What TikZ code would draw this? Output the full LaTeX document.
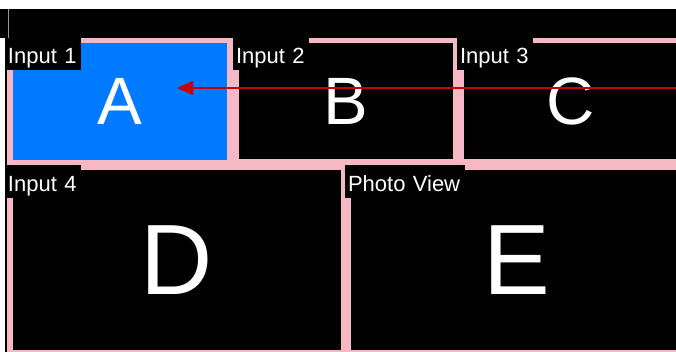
\documentclass[tikz,border=0pt]{standalone}
\usepackage{fontspec}
\setmainfont{Liberation Sans}
\usetikzlibrary{arrows.meta}
\definecolor{tilepink}{RGB}{246,184,196}
\definecolor{tileblue}{RGB}{0,122,255}
\definecolor{arrowred}{RGB}{200,0,0}
\definecolor{bargray}{RGB}{150,150,150}
\begin{document}
\begin{tikzpicture}[x=1pt,y=-1pt,
  tile/.style={draw=tilepink,line width=5.5pt,fill=black,text=white,
    inner sep=0pt,outer sep=0pt},
  small/.style={font=\fontsize{67}{67}\selectfont},
  big/.style={font=\fontsize{100}{100}\selectfont},
  tag/.style={fill=black,text=white,font=\fontsize{22}{22}\selectfont,
    anchor=north west,inner xsep=3pt,inner ysep=0pt,outer sep=0pt,
    align=left,minimum height=32pt,text height=22pt,text depth=2pt},
  pointer/.style={draw=arrowred,line width=1.3pt,
    -{Triangle[length=16pt,width=14pt]}}
]
\useasboundingbox (0,0) rectangle (676,352);
\clip (0,0) rectangle (676,352);
\fill[white] (0,0) rectangle (676,352);
\fill[black] (0,9) rectangle (676,38);
\fill[black] (5,38) rectangle (676,352);
\draw[bargray,line width=1pt] (8,9) -- (8,38);

\node[tile,fill=tileblue,small,minimum width=220pt,minimum height=122pt] (A) at (120,101.5) {\raisebox{-3pt}{A}};
\node[tile,small,minimum width=219.5pt,minimum height=121.5pt] (B) at (345.5,101.5) {\raisebox{-3pt}{B}};
\node[tile,small,minimum width=219.5pt,minimum height=121.5pt] (C) at (570.5,101.5) {\raisebox{-3pt}{C}};
\node[tile,big,minimum width=333.5pt,minimum height=185pt] (D) at (176.5,260) {\raisebox{-4pt}{D}};
\node[tile,big,minimum width=337pt,minimum height=185pt] (E) at (517,260) {\raisebox{-5pt}{E}};

\node[tag,text width=70pt] (l1) at (5,38) {Input 1};
\node[tag,text width=70pt] (l2) at (233,38) {Input 2};
\node[tag,text width=70pt] (l3) at (457,38) {Input 3};
\node[tag,text width=70pt,minimum height=33pt] (l4) at (5,165) {Input 4};
\node[tag,text width=114pt,minimum height=33pt] (l5) at (345,165) {Photo View};

\coordinate (src) at (676,88);
\coordinate (tip) at (177,88);
\draw[pointer] (src) -- (tip);
\end{tikzpicture}
\end{document}
